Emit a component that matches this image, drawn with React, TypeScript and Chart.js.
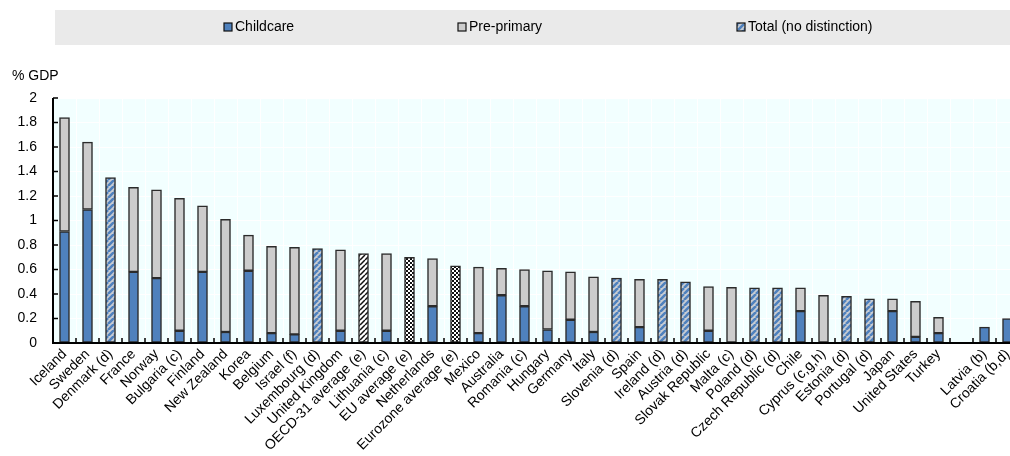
import React, { useEffect, useRef } from "react";
import { Chart, registerables } from "chart.js";

Chart.register(...registerables);

const categories = [
  "Iceland", "Sweden", "Denmark (d)", "France", "Norway", "Bulgaria (c)", "Finland", "New Zealand", "Korea",
  "Belgium", "Israel (f)", "Luxembourg (d)", "United Kingdom", "OECD-31 average (e)", "Lithuania (c)",
  "EU average (e)", "Netherlands", "Eurozone average (e)", "Mexico", "Australia", "Romania (c)", "Hungary",
  "Germany", "Italy", "Slovenia (d)", "Spain", "Ireland (d)", "Austria (d)", "Slovak Republic", "Malta (c)",
  "Poland (d)", "Czech Republic (d)", "Chile", "Cyprus (c,g,h)", "Estonia (d)", "Portugal (d)", "Japan",
  "United States", "Turkey", "", "Latvia (b)", "Croatia (b,d)",
];

const childcare = [
  0.91, 1.09, null, 0.58, 0.53, 0.10, 0.58, 0.09, 0.59,
  0.08, 0.07, null, 0.10, null, 0.10,
  null, 0.30, null, 0.08, 0.39, 0.30, 0.11,
  0.19, 0.09, null, 0.13, null, null, 0.10, null,
  null, null, 0.26, null, null, null, 0.26,
  0.05, 0.08, null, 0.13, 0.20,
];

const prePrimary = [
  0.93, 0.55, null, 0.69, 0.72, 1.08, 0.54, 0.92, 0.29,
  0.71, 0.71, null, 0.66, null, 0.63,
  null, 0.39, null, 0.54, 0.22, 0.30, 0.48,
  0.39, 0.45, null, 0.39, null, null, 0.36, 0.455,
  null, null, 0.19, 0.39, null, null, 0.10,
  0.29, 0.13, null, null, null,
];

const totalNoDistinction = [
  null, null, 1.35, null, null, null, null, null, null,
  null, null, 0.77, null, null, null,
  null, null, null, null, null, null, null,
  null, null, 0.53, null, 0.52, 0.50, null, null,
  0.45, 0.45, null, null, 0.38, 0.36, null,
  null, null, null, null, null,
];

const oecdAverage = [
  null, null, null, null, null, null, null, null, null,
  null, null, null, null, 0.73, null,
  null, null, null, null, null, null, null,
  null, null, null, null, null, null, null, null,
  null, null, null, null, null, null, null,
  null, null, null, null, null,
];

const regionalAverages = [
  null, null, null, null, null, null, null, null, null,
  null, null, null, null, null, null,
  0.70, null, 0.63, null, null, null, null,
  null, null, null, null, null, null, null, null,
  null, null, null, null, null, null, null,
  null, null, null, null, null,
];

const yTicks = [0, 0.2, 0.4, 0.6, 0.8, 1, 1.2, 1.4, 1.6, 1.8, 2];

const legendItems = ["Childcare", "Pre-primary", "Total (no distinction)"];

const BLUE = "#4F81BD";
const GRAY = "#CCCCCC";
const BORDER = "#2b2b2b";
const FONT = "'Liberation Sans', Arial, sans-serif";

function stripePattern(bg: string, fg: string, size: number, lw: number) {
  const c = document.createElement("canvas");
  c.width = size;
  c.height = size;
  const x = c.getContext("2d")!;
  x.fillStyle = bg;
  x.fillRect(0, 0, size, size);
  x.strokeStyle = fg;
  x.lineWidth = lw;
  x.beginPath();
  for (const o of [-size, 0, size]) {
    x.moveTo(o, size);
    x.lineTo(o + size, 0);
  }
  x.stroke();
  return x.createPattern(c, "repeat")!;
}

function checkerPattern() {
  const c = document.createElement("canvas");
  c.width = 4;
  c.height = 4;
  const x = c.getContext("2d")!;
  x.fillStyle = "#ffffff";
  x.fillRect(0, 0, 4, 4);
  x.fillStyle = "#111111";
  x.fillRect(0, 0, 2, 2);
  x.fillRect(2, 2, 2, 2);
  return x.createPattern(c, "repeat")!;
}

export default function App() {
  const ref = useRef<HTMLCanvasElement | null>(null);

  useEffect(() => {
    document.body.style.overflow = "hidden";
    const canvas = ref.current!;
    const hatchBlue = stripePattern("#C9CDD3", BLUE, 6, 2.6);
    const hatchBlack = stripePattern("#ffffff", "#111111", 5, 1.5);
    const checker = checkerPattern();
    const legendFills = [BLUE, GRAY, hatchBlue];

    const decor = {
      id: "decor",
      beforeDraw(chart: any) {
        const { ctx, chartArea } = chart;
        ctx.save();
        ctx.fillStyle = "#F2FFFF";
        ctx.fillRect(chartArea.left, chartArea.top, chartArea.right - chartArea.left, chartArea.bottom - chartArea.top);
        // legend box
        ctx.fillStyle = "#EAEAEA";
        ctx.fillRect(55, 10, 1000, 35);
        const xs = [224, 458, 737];
        ctx.font = `14px ${FONT}`;
        ctx.textBaseline = "middle";
        legendItems.forEach((t, i) => {
          ctx.fillStyle = legendFills[i];
          ctx.fillRect(xs[i], 23, 8, 8);
          ctx.strokeStyle = "#111";
          ctx.lineWidth = 1.2;
          ctx.strokeRect(xs[i], 23, 8, 8);
          ctx.fillStyle = "#000";
          ctx.fillText(t, xs[i] + 11, 27.5);
        });
        // unit label
        ctx.font = `14px ${FONT}`;
        ctx.fillText("% GDP", 12, 76);
        ctx.restore();
      },
      afterDraw(chart: any) {
        const { ctx, chartArea, scales } = chart;
        const x = scales.x;
        const y = scales.y;
        ctx.save();
        ctx.strokeStyle = "#000";
        ctx.lineWidth = 2;
        ctx.beginPath();
        ctx.moveTo(chartArea.left, chartArea.top);
        ctx.lineTo(chartArea.left, chartArea.bottom);
        ctx.lineTo(chartArea.right, chartArea.bottom);
        ctx.stroke();
        ctx.lineWidth = 1.5;
        ctx.beginPath();
        yTicks.forEach((v) => {
          const py = y.getPixelForValue(v);
          ctx.moveTo(chartArea.left, py);
          ctx.lineTo(chartArea.left + 5, py);
        });
        for (let i = 1; i < categories.length; i++) {
          const px = (x.getPixelForValue(i - 1) + x.getPixelForValue(i)) / 2;
          ctx.moveTo(px, chartArea.bottom);
          ctx.lineTo(px, chartArea.bottom - 5);
        }
        ctx.stroke();
        ctx.restore();
      },
    };

    const common = {
      borderColor: BORDER,
      borderWidth: 1.5,
      barThickness: 10,
      stack: "s",
      borderSkipped: false,
    };

    const chart = new Chart(canvas, {
      type: "bar",
      data: {
        labels: categories,
        datasets: [
          { label: "Childcare", data: childcare, backgroundColor: BLUE, ...common },
          { label: "Pre-primary", data: prePrimary, backgroundColor: GRAY, ...common },
          { label: "Total (no distinction)", data: totalNoDistinction, backgroundColor: hatchBlue, ...common },
          { label: "OECD average", data: oecdAverage, backgroundColor: hatchBlack, ...common },
          { label: "EU / Eurozone average", data: regionalAverages, backgroundColor: checker, ...common },
        ] as any,
      },
      options: {
        animation: false,
        responsive: false,
        maintainAspectRatio: false,
        layout: { padding: { top: 98, right: 11, left: 0, bottom: 0 } },
        plugins: { legend: { display: false }, tooltip: { enabled: false } },
        scales: {
          x: {
            stacked: true,
            offset: true,
            grid: { color: "#ffffff", lineWidth: 1, drawTicks: false, offset: true },
            border: { display: false },
            ticks: {
              autoSkip: false,
              minRotation: 45,
              maxRotation: 45,
              padding: 3,
              color: "#000",
              font: { family: FONT, size: 14 },
            },
            afterFit(scale: any) {
              scale.height = 113;
            },
          },
          y: {
            stacked: true,
            min: 0,
            max: 2,
            grid: { color: "#ffffff", lineWidth: 1, drawTicks: false },
            border: { display: false },
            afterBuildTicks(scale: any) {
              scale.ticks = yTicks.map((v) => ({ value: v }));
            },
            ticks: {
              padding: 16,
              color: "#000",
              font: { family: FONT, size: 14 },
              callback: (v: any) => String(Math.round(Number(v) * 10) / 10),
            },
            afterFit(scale: any) {
              scale.width = 53;
            },
          },
        },
      } as any,
      plugins: [decor],
    });
    return () => chart.destroy();
  }, []);

  return (
    <div style={{ position: "fixed", left: 0, top: 0, width: 1030, height: 456, overflow: "hidden" }}>
      <canvas ref={ref} width={1030} height={456} style={{ width: 1030, height: 456, display: "block" }} />
    </div>
  );
}
